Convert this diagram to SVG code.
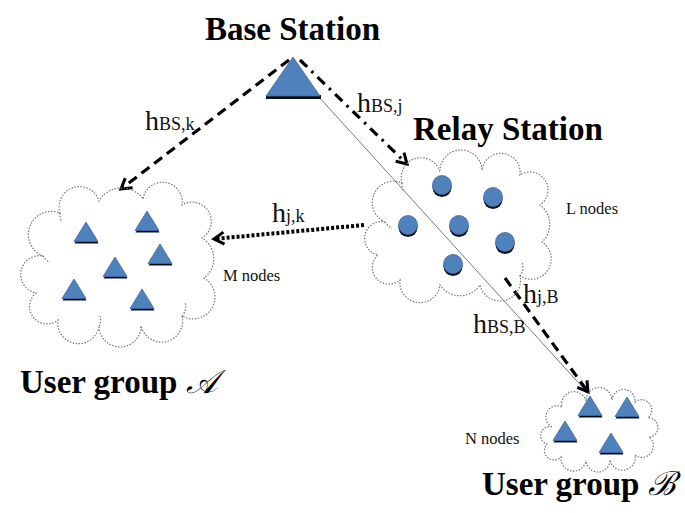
<svg xmlns="http://www.w3.org/2000/svg" xmlns:xlink="http://www.w3.org/1999/xlink" width="685" height="513" viewBox="0 0 685 513">
<style>
.title{font-family:"Liberation Serif","Times New Roman",serif;font-weight:bold;font-size:33px;fill:#000}
.lbl{font-family:"Liberation Serif","Times New Roman",serif;fill:#111}
.h{font-size:28px}
.sub{font-size:18px}
.small{font-family:"Liberation Serif","Times New Roman",serif;font-size:16.5px;fill:#111}
.cloud{fill:none;stroke:#777;stroke-width:1.2;stroke-dasharray:1.5 1.5}
.inner{fill:none;stroke:#777;stroke-width:1.2;stroke-dasharray:1.5 1.5}
.conn{fill:none;stroke:#000}
.dash{stroke-width:3.2;stroke-dasharray:10 6}
.dashdot{stroke-width:3.2;stroke-dasharray:10 6 2.5 6}
.dot{stroke-width:4;stroke-dasharray:3 2}
.thin{stroke:#555;stroke-width:0.8}
.script{font-family:"DejaVu Serif","Liberation Serif",serif;font-style:italic;font-weight:normal}
</style>
<defs>
<marker id="arr" markerUnits="userSpaceOnUse" markerWidth="16" markerHeight="16" refX="11" refY="6" orient="auto" overflow="visible">
<path d="M1,0 L11,6 L1,12" fill="none" stroke="#000" stroke-width="3"/>
</marker>
<g id="tri">
<path d="M0.5,-8 L12.5,11.5 L-11.5,11.5 Z" fill="#0c0c0c"/>
<path d="M0,-10 L12,9.5 L-12,9.5 Z" fill="#4f81bd" stroke="#3d6aa6" stroke-width="0.8"/>
</g>
<g id="dotnode">
<circle cx="0" cy="2.5" r="9.5" fill="#0c0c0c"/>
<circle cx="0" cy="0" r="9.5" fill="#4f81bd" stroke="#3d6aa6" stroke-width="0.8"/>
</g>
</defs>
<rect width="685" height="513" fill="#fff"/>

<g id="connectors">
<path class="conn thin" d="M318,96 L585,390"/>
<path class="conn dash" d="M289,60 L121,189" marker-end="url(#arr)"/>
<path class="conn dashdot" d="M300,60 L407,164" marker-end="url(#arr)"/>
<path class="conn dot" d="M364,225 L214,239" marker-end="url(#arr)"/>
<path class="conn dash" d="M505,278 L588,392" marker-end="url(#arr)"/>
<text class="lbl" x="145" y="130"><tspan class="h">h</tspan><tspan class="sub">BS,k</tspan></text>
<text class="lbl" x="357" y="112"><tspan class="h">h</tspan><tspan class="sub">BS,j</tspan></text>
<text class="lbl" x="272" y="222"><tspan class="h">h</tspan><tspan class="sub">j,k</tspan></text>
<text class="lbl" x="523" y="303"><tspan class="h">h</tspan><tspan class="sub">j,B</tspan></text>
<text class="lbl" x="473" y="333"><tspan class="h">h</tspan><tspan class="sub">BS,B</tspan></text>
</g>

<g id="base-station">
<text class="title" x="205" y="40">Base Station</text>
<rect x="266" y="95" width="55" height="4" fill="#0c0c0c"/>
<path d="M293,57 L320,96 L266,96 Z" fill="#4f81bd" stroke="#3d6aa6" stroke-width="0.8"/>
</g>

<g id="relay-station">
<text class="title" x="413" y="140">Relay Station</text>
<path class="cloud" d="M385,222 A1 1 0 0 1 402,183 A1 1 0 0 1 440,172 A1 1 0 0 1 482,170 A1 1 0 0 1 520,175 A1 1 0 0 1 540,205 A24 24 0 0 1 542,242 A1 1 0 0 1 520,276 A1 1 0 0 1 480,285 A24 24 0 0 1 440,285 A1 1 0 0 1 400,280 A1 1 0 0 1 378,255 A1 1 0 0 1 385,222 Z"/>
<path class="inner" d="M385,222 A12 12 0 0 0 392,228 M520,276 A14 14 0 0 0 522,262 M402,183 A14 14 0 0 0 404,192"/>
<use xlink:href="#dotnode" x="442" y="185"/>
<use xlink:href="#dotnode" x="493" y="197"/>
<use xlink:href="#dotnode" x="408" y="225"/>
<use xlink:href="#dotnode" x="459" y="225"/>
<use xlink:href="#dotnode" x="505" y="242"/>
<use xlink:href="#dotnode" x="453" y="264"/>
<text class="small" x="566" y="214">L nodes</text>
</g>

<g id="user-group-a">
<path class="cloud" d="M43,256 A1 1 0 0 1 60,213 A1 1 0 0 1 99,201 A26 26 0 0 1 143,199 A1 1 0 0 1 182,205 A1 1 0 0 1 202,238 A24 24 0 0 1 204,278 A1 1 0 0 1 182,316 A1 1 0 0 1 141,326 A1 1 0 0 1 99,326 A1 1 0 0 1 58,320 A1 1 0 0 1 36,293 A1 1 0 0 1 43,256 Z"/>
<path class="inner" d="M43,256 A12 12 0 0 0 50,262 M182,316 A14 14 0 0 0 185,302 M60,213 A14 14 0 0 0 62,222 M99,326 A12 12 0 0 0 100,316"/>
<use xlink:href="#tri" x="86" y="232"/>
<use xlink:href="#tri" x="147" y="221"/>
<use xlink:href="#tri" x="115" y="267"/>
<use xlink:href="#tri" x="160" y="254"/>
<use xlink:href="#tri" x="74" y="289"/>
<use xlink:href="#tri" x="142" y="299"/>
<text class="small" x="223" y="281">M nodes</text>
<text class="title" x="20" y="393">User group <tspan class="script">𝒜</tspan></text>
</g>

<g id="user-group-b">
<path class="cloud" d="M552,427 A1 1 0 0 1 562,407 A1 1 0 0 1 586,401 A1 1 0 0 1 612,400 A1 1 0 0 1 635,402 A1 1 0 0 1 648,418 A1 1 0 0 1 649,437 A1 1 0 0 1 635,455 A1 1 0 0 1 610,460 A1 1 0 0 1 586,460 A1 1 0 0 1 561,457 A1 1 0 0 1 547,444 A1 1 0 0 1 552,427 Z"/>
<use xlink:href="#tri" x="590" y="406"/>
<use xlink:href="#tri" x="627" y="407"/>
<use xlink:href="#tri" x="565" y="431"/>
<use xlink:href="#tri" x="611" y="443"/>
<text class="small" x="465" y="444">N nodes</text>
<text class="title" x="482" y="495">User group <tspan class="script">ℬ</tspan></text>
</g>
</svg>
